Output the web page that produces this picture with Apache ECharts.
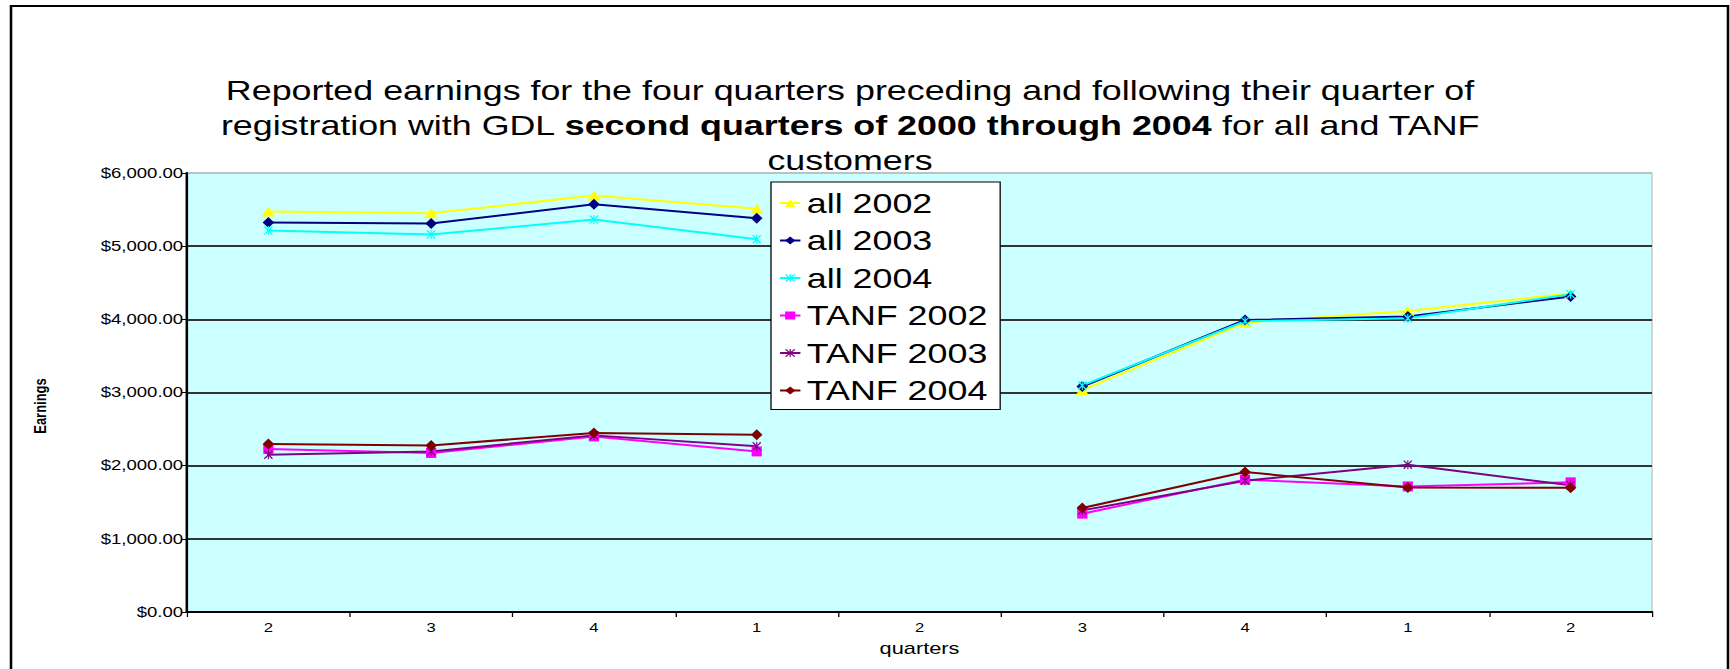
<!DOCTYPE html>
<html>
<head>
<meta charset="utf-8">
<script src="https://cdn.jsdelivr.net/npm/echarts@6/dist/echarts.min.js"></script>
<style>
  html, body { margin: 0; padding: 0; background: #fff; overflow: hidden; }
  /* The chart is laid out on a narrower canvas and widened to the page width,
     giving the wide, horizontally stretched lettering of the original sheet. */
  #chart { width: 1352px; height: 669px; transform: scaleX(1.27959); transform-origin: 0 0; }
</style>
</head>
<body>
<div id="chart"></div>
<script>
// Quarter labels along the x axis (quarter 2 in the middle is the registration quarter)
const quarters = ['2', '3', '4', '1', '2', '3', '4', '1', '2'];

// Reported earnings per quarter; null = registration quarter (no value)
const all2002  = [5475, 5451, 5691, 5510, null, 3035, 3955, 4115, 4355];
const all2003  = [5322, 5309, 5574, 5383, null, 3082, 3991, 4038, 4311];
const all2004  = [5213, 5158, 5363, 5096, null, 3096, 3975, 4015, 4344];
const tanf2002 = [2228, 2173, 2400, 2195, null, 1344, 1809, 1716, 1772];
const tanf2003 = [2150, 2195, 2414, 2264, null, 1389, 1794, 2014, 1731];
const tanf2004 = [2296, 2277, 2447, 2423, null, 1422, 1913, 1702, 1699];

const yTicks = [0, 1000, 2000, 3000, 4000, 5000, 6000];

const FONT = '"Liberation Sans", Arial, sans-serif';
const S = 1730 / 1352;          // horizontal widening factor of the page
const hx = v => v / S;          // page x-distance -> layout x-distance

// Asterisk-style marker (X with a vertical bar)
const STAR = 'path://M0,1 L1,0 L10,9 L9,10 Z M9,0 L10,1 L1,10 L0,9 Z M4.4,0 L5.6,0 L5.6,10 L4.4,10 Z';

function money(v) {
  return '$' + v.toLocaleString('en-US', { minimumFractionDigits: 2, maximumFractionDigits: 2 });
}

function lineSeries(name, data, color, symbol, size) {
  return {
    name: name,
    type: 'line',
    data: data,
    connectNulls: false,
    symbol: symbol,
    symbolSize: size,
    showAllSymbol: true,
    lineStyle: { color: color, width: 2 },
    itemStyle: { color: color },
    emphasis: { disabled: true },
    z: 3
  };
}

const chart = echarts.init(document.getElementById('chart'), null, { renderer: 'svg' });

chart.setOption({
  animation: false,
  backgroundColor: '#ffffff',
  graphic: [
    {
      type: 'rect',
      shape: { x: hx(11), y: 6, width: hx(1717), height: 700 },
      style: { fill: 'none', stroke: '#000', lineWidth: 2 },
      z: 0, silent: true
    },
    {
      type: 'text',
      x: hx(850), y: 73,
      style: {
        text: 'Reported earnings for the four quarters preceding and following their quarter of\n' +
              'registration with GDL {b|second quarters of 2000 through 2004} for all and TANF\n' +
              'customers',
        align: 'center',
        verticalAlign: 'top',
        fontFamily: FONT,
        fontSize: 28,
        lineHeight: 35,
        fill: '#000',
        rich: {
          b: { fontFamily: FONT, fontSize: 28, fontWeight: 'bold', lineHeight: 35, fill: '#000' }
        }
      },
      z: 10, silent: true
    },
    {
      type: 'text',
      x: hx(40), y: 406,
      rotation: Math.PI / 2,
      style: {
        text: 'Earnings',
        align: 'center',
        verticalAlign: 'middle',
        fontFamily: FONT,
        fontSize: 13,
        fontWeight: 'bold',
        fill: '#000'
      },
      z: 10, silent: true
    }
  ],
  grid: {
    left: hx(187), right: hx(78), top: 173, bottom: 57,
    show: true,
    backgroundColor: '#CCFFFF',
    borderColor: '#c0c0c0',
    borderWidth: 1
  },
  legend: {
    orient: 'vertical',
    left: hx(771), top: 182,
    padding: [6, 10, 4, 6],
    itemWidth: 16, itemHeight: 10,
    itemGap: 7.5,
    backgroundColor: '#ffffff',
    borderColor: '#000',
    borderWidth: 1,
    textStyle: { fontFamily: FONT, fontSize: 28, color: '#000', lineHeight: 30 },
    data: ['all 2002', 'all 2003', 'all 2004', 'TANF 2002', 'TANF 2003', 'TANF 2004'],
    selectedMode: false,
    z: 10
  },
  xAxis: {
    type: 'category',
    data: quarters,
    boundaryGap: true,
    name: 'quarters',
    nameLocation: 'middle',
    nameGap: 27,
    nameTextStyle: { fontFamily: FONT, fontSize: 17, color: '#000' },
    axisLine: { show: true, lineStyle: { color: '#000', width: 2 } },
    axisTick: { show: true, alignWithLabel: false, length: 5, lineStyle: { color: '#000', width: 1 } },
    axisLabel: { fontFamily: FONT, fontSize: 13, color: '#000', margin: 9, interval: 0 },
    splitLine: { show: false }
  },
  yAxis: {
    type: 'value',
    min: yTicks[0],
    max: yTicks[yTicks.length - 1],
    interval: 1000,
    axisLine: { show: true, lineStyle: { color: '#000', width: 2 } },
    axisTick: { show: true, inside: false, length: 4, lineStyle: { color: '#000', width: 1 } },
    axisLabel: { fontFamily: FONT, fontSize: 14.5, color: '#000', margin: 3, formatter: money },
    splitLine: {
      show: true,
      lineStyle: { color: ['#000', '#333', '#333', '#333', '#333', '#333', '#c0c0c0'], width: 2 }
    }
  },
  series: [
    lineSeries('all 2002', all2002, '#FFFF00', 'triangle', [10, 10]),
    lineSeries('all 2003', all2003, '#000080', 'diamond', [9, 11]),
    lineSeries('all 2004', all2004, '#00FFFF', STAR, [7, 9]),
    lineSeries('TANF 2002', tanf2002, '#FF00FF', 'rect', [8, 10]),
    lineSeries('TANF 2003', tanf2003, '#800080', STAR, [7, 9]),
    lineSeries('TANF 2004', tanf2004, '#800000', 'diamond', [9, 11])
  ]
});
</script>
</body>
</html>
